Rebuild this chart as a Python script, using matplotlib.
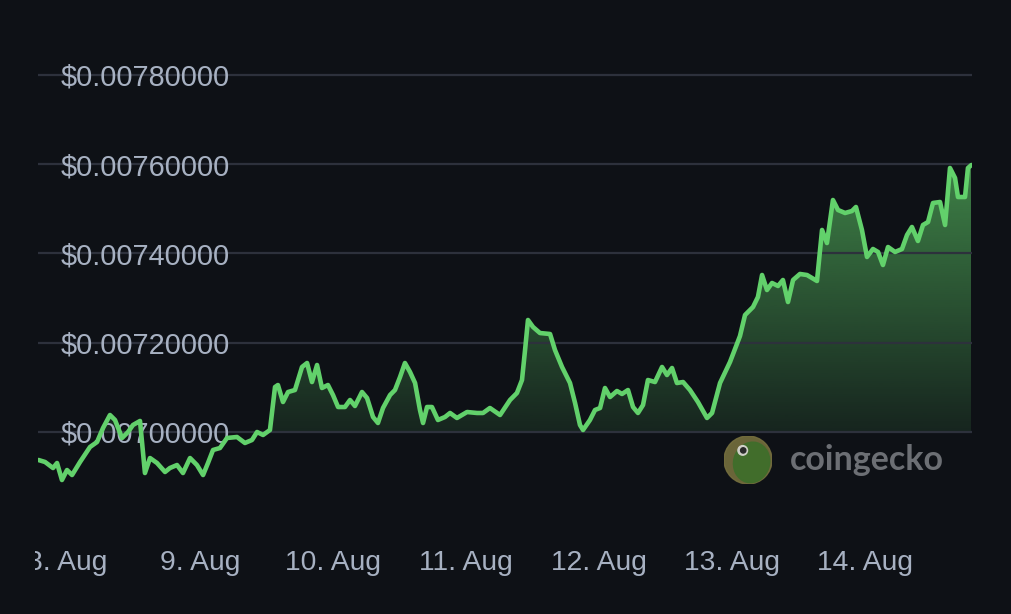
import numpy as np
import matplotlib
matplotlib.use("Agg")
import matplotlib.pyplot as plt
from matplotlib.path import Path
from matplotlib.patches import Circle, Ellipse
from matplotlib.transforms import Bbox, TransformedBbox

# ---------------- data ----------------
# time as fractional day of August
day_of_aug = [
    7.785, 7.835, 7.895, 7.925, 7.962, 8.000, 8.038, 8.098, 8.173, 8.226,
    8.271, 8.323, 8.361, 8.414, 8.459, 8.496, 8.549, 8.586, 8.624, 8.677,
    8.737, 8.774, 8.827, 8.872, 8.925, 8.977, 9.023, 9.060, 9.098, 9.150,
    9.203, 9.278, 9.338, 9.391, 9.429, 9.474, 9.526, 9.564, 9.586, 9.624,
    9.662, 9.714, 9.767, 9.805, 9.842, 9.880, 9.917, 9.962, 10.000, 10.038,
    10.090, 10.128, 10.165, 10.218, 10.256, 10.301, 10.338, 10.376, 10.429, 10.466,
    10.504, 10.541, 10.579, 10.617, 10.654, 10.677, 10.707, 10.744, 10.789, 10.842,
    10.880, 10.932, 11.008, 11.083, 11.128, 11.180, 11.256, 11.331, 11.383, 11.421,
    11.444, 11.466, 11.504, 11.556, 11.632, 11.669, 11.722, 11.782, 11.820, 11.857,
    11.880, 11.932, 11.970, 12.008, 12.045, 12.083, 12.135, 12.173, 12.218, 12.256,
    12.293, 12.331, 12.368, 12.421, 12.474, 12.511, 12.549, 12.586, 12.632, 12.684,
    12.744, 12.812, 12.850, 12.910, 12.985, 13.060, 13.098, 13.158, 13.195, 13.226,
    13.263, 13.301, 13.346, 13.383, 13.421, 13.459, 13.511, 13.564, 13.639, 13.677,
    13.714, 13.759, 13.797, 13.850, 13.902, 13.932, 13.977, 14.015, 14.060, 14.098,
    14.135, 14.173, 14.226, 14.278, 14.316, 14.353, 14.398, 14.436, 14.474, 14.511,
    14.564, 14.602, 14.639, 14.677, 14.699, 14.752, 14.774, 14.800,
]
price_usd = [
    0.0069373, 0.0069328, 0.0069193, 0.0069305, 0.0068924, 0.0069148, 0.0069036, 0.0069328, 0.0069664, 0.0069776,
    0.0070090, 0.0070381, 0.0070269, 0.0069866, 0.0070000, 0.0070157, 0.0070247, 0.0069081, 0.0069417, 0.0069305,
    0.0069104, 0.0069193, 0.0069260, 0.0069081, 0.0069417, 0.0069260, 0.0069036, 0.0069305, 0.0069597, 0.0069641,
    0.0069866, 0.0069888, 0.0069754, 0.0069821, 0.0070000, 0.0069933, 0.0070045, 0.0071008, 0.0071053, 0.0070672,
    0.0070896, 0.0070941, 0.0071457, 0.0071546, 0.0071120, 0.0071501, 0.0070986, 0.0071053, 0.0070829, 0.0070560,
    0.0070560, 0.0070717, 0.0070583, 0.0070896, 0.0070762, 0.0070336, 0.0070202, 0.0070538, 0.0070829, 0.0070941,
    0.0071232, 0.0071546, 0.0071345, 0.0071098, 0.0070493, 0.0070202, 0.0070560, 0.0070560, 0.0070269, 0.0070336,
    0.0070426, 0.0070314, 0.0070448, 0.0070426, 0.0070426, 0.0070538, 0.0070381, 0.0070717, 0.0070874, 0.0071165,
    0.0071838, 0.0072510, 0.0072353, 0.0072218, 0.0072196, 0.0071838, 0.0071457, 0.0071098, 0.0070650, 0.0070157,
    0.0070045, 0.0070269, 0.0070493, 0.0070538, 0.0070986, 0.0070784, 0.0070919, 0.0070852, 0.0070941, 0.0070560,
    0.0070426, 0.0070605, 0.0071165, 0.0071120, 0.0071457, 0.0071277, 0.0071434, 0.0071098, 0.0071120, 0.0070941,
    0.0070672, 0.0070314, 0.0070426, 0.0071098, 0.0071569, 0.0072151, 0.0072622, 0.0072801, 0.0073025, 0.0073518,
    0.0073182, 0.0073339, 0.0073272, 0.0073406, 0.0072913, 0.0073406, 0.0073541, 0.0073518, 0.0073384, 0.0074527,
    0.0074235, 0.0075199, 0.0074975, 0.0074908, 0.0074952, 0.0075042, 0.0074527, 0.0073922, 0.0074101, 0.0074034,
    0.0073742, 0.0074146, 0.0074034, 0.0074101, 0.0074415, 0.0074594, 0.0074280, 0.0074639, 0.0074706, 0.0075132,
    0.0075154, 0.0074639, 0.0075916, 0.0075692, 0.0075266, 0.0075266, 0.0075916, 0.0075983,
]
y_ticks = [0.0070, 0.0072, 0.0074, 0.0076, 0.0078]
y_tick_labels = ["$0.00700000", "$0.00720000", "$0.00740000", "$0.00760000", "$0.00780000"]
x_ticks = [8, 9, 10, 11, 12, 13, 14]
x_tick_labels = ["8. Aug", "9. Aug", "10. Aug", "11. Aug", "12. Aug", "13. Aug", "14. Aug"]
fill_base = 0.0070
watermark_text = "coingecko"

# ---------------- style ----------------
BG = "#0e1116"
GRID = "#2d313c"
LINE = "#62d16b"
TXT = "#a7b1c2"
W, H = 1011, 614

fig = plt.figure(figsize=(W / 100, H / 100), dpi=100, facecolor=BG)
ax = fig.add_axes([38 / W, (H - 500) / H, 934 / W, 440 / H])
ax.set_facecolor(BG)

x = np.asarray(day_of_aug)
y = np.asarray(price_usd)

# gradient fill under the line (clipped to the area between line and base)
verts = np.vstack([np.column_stack([x, y]),
                   [[x[-1], fill_base], [x[0], fill_base]]])
clip = Path(verts, closed=True)
levels = np.linspace(fill_base, 0.0078, 300)
alpha = np.clip(0.6 * (levels - 0.006870) / (0.0076 - 0.006870), 0, 0.66)
rgba = np.zeros((len(levels), 1, 4))
rgba[..., 0] = 0x5f / 255
rgba[..., 1] = 0xcd / 255
rgba[..., 2] = 0x68 / 255
rgba[:, 0, 3] = alpha
im = ax.imshow(rgba, extent=[x[0], x[-1], fill_base, 0.0078], origin="lower",
               aspect="auto", interpolation="bilinear", zorder=1)
im.set_clip_path(clip, ax.transData)

ax.plot(x, y, color=LINE, lw=3.3, solid_joinstyle="round",
        solid_capstyle="round", zorder=4)

ax.set_xlim(9 - 162 / 133, 9 + 772 / 133)
ax.set_ylim(0.0070 - 68 * 0.0002 / 89.25, 0.0070 + 372 * 0.0002 / 89.25)

# grid & ticks
ax.set_yticks(y_ticks)
ax.set_yticklabels(y_tick_labels)
ax.set_xticks(x_ticks)
ax.set_xticklabels(x_tick_labels)
ax.grid(axis="y", color=GRID, lw=1.6, zorder=0)
ax.grid(axis="x", visible=False)
for s in ax.spines.values():
    s.set_visible(False)
ax.tick_params(axis="y", length=0, pad=-16, labelsize=20.8, labelcolor=TXT)
ax.tick_params(axis="x", length=0, pad=36, labelsize=20.3, labelcolor=TXT)
for t in ax.get_yticklabels():
    t.set_horizontalalignment("left")
    t.set_fontfamily("Liberation Sans")
    t.set_zorder(3)
clipbox = TransformedBbox(Bbox([[35 / W, 0], [1, 1]]), fig.transFigure)
for t in ax.get_xticklabels():
    t.set_fontfamily("Liberation Sans")
    t.set_clip_box(clipbox)
    t.set_clip_on(True)

# watermark logo
lax = fig.add_axes([724 / W, (H - 484) / H, 48 / W, 48 / H])
lax.set_xlim(-1, 1)
lax.set_ylim(-1, 1)
lax.set_aspect("equal")
lax.axis("off")
lax.add_patch(Circle((0, 0), 1.0, color="#756f3e", alpha=0.9))
lax.add_patch(Ellipse((0.15, -0.1), 1.5, 1.7, angle=-15, color="#3f6e2b", alpha=0.95))
lax.add_patch(Circle((-0.22, 0.4), 0.2, color="#d0d0c8"))
lax.add_patch(Circle((-0.2, 0.4), 0.11, color="#2a2a2a"))
fig.text(790 / W, 1 - 470 / H, watermark_text, color="#6c6f74", fontsize=24.5,
         fontweight="bold", family="Lato", ha="left", va="baseline")

fig.savefig("out.png", dpi=100, facecolor=BG)
